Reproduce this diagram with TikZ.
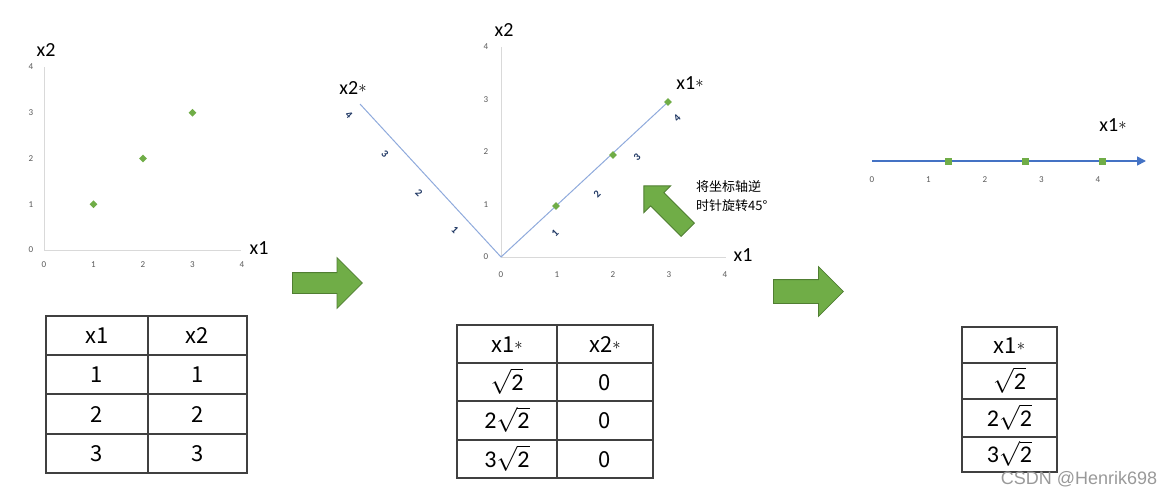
\documentclass[tikz,border=0pt]{standalone}
\usepackage{fontspec}
\usepackage{graphicx}
\setmainfont{Carlito}
\newfontfamily\cjk{Noto Sans CJK SC}
\newfontfamily\wmfont{Liberation Sans}
\usetikzlibrary{shapes.arrows,shapes.geometric,arrows.meta}
\definecolor{ptgreen}{HTML}{70AD47}
\definecolor{ptgreendark}{HTML}{507E32}
\definecolor{axgray}{HTML}{D9D9D9}
\definecolor{ticgray}{HTML}{595959}
\definecolor{rotblue}{HTML}{8FAADC}
\definecolor{linblue}{HTML}{4472C4}
\definecolor{tabline}{HTML}{404040}
\definecolor{navy}{HTML}{203864}
\newcommand\smallstar{\raisebox{0.1em}{\scalebox{0.8}{$\ast$}}}
\newcommand\rtwo[1]{{\fontsize{24}{24}\selectfont\rmfamily #1$\sqrt{\hbox{2}}$}}
\begin{document}
\begin{tikzpicture}[x=1pt,y=-1pt,
    every node/.style={inner sep=0pt},
    axis/.style={axgray, line width=1pt},
    tick/.style={font=\fontsize{9}{9}\selectfont, text=ticgray},
    rtick/.style={font=\bfseries\fontsize{10.5}{10.5}\selectfont, text=navy},
    lab/.style={font=\fontsize{20}{20}\selectfont},
    dot/.style={diamond, fill=ptgreen, minimum size=8pt},
    rdot/.style={rectangle, fill=ptgreen, minimum size=5.5pt, rotate=45},
    sqdot/.style={rectangle, fill=ptgreen, minimum size=7pt},
    bigarrow/.style={single arrow, fill=ptgreen, draw=ptgreendark, line width=0.8pt,
        minimum height=70pt, single arrow head extend=15pt, inner xsep=0pt, inner ysep=10pt,
        anchor=tail},
    grid/.style={tabline, line width=1.1pt},
    cell/.style={font=\cjk\fontsize{22}{22}\selectfont, text height=16pt, text depth=0pt}
  ]
  \useasboundingbox (0,0) rectangle (1176,496);

  % first plot: the points
  \coordinate (o1) at (44,250);
  \draw[axis] (44,67) -- (o1) -- (241,250);
  \foreach \i in {0,...,4} {
    \node[tick] (t1x\i) at ({44+49.5*\i},265) {\i};
    \node[tick] (t1y\i) at (31,{250-45.75*\i}) {\i};
  }
  \foreach \i in {1,2,3}
    \node[dot] (p1\i) at ({44+49.5*\i},{250-45.75*\i}) {};
  \node[lab] (x2a) at (46,50) {x2};
  \node[lab] (x1a) at (259,248) {x1};

  % first table
  \draw[grid] (46,316) rectangle (247,473);
  \draw[grid] (148,316) -- (148,473);
  \foreach \y in {355,394,434} \draw[grid] (46,\y) -- (247,\y);
  \node[cell] (c11) at (97,335.5) {x1};
  \node[cell] (c12) at (197.5,335.5) {x2};
  \foreach \i/\y in {1/374.5,2/414,3/453.5} {
    \node[cell] (d1\i a) at (97,\y) {\i};
    \node[cell] (d1\i b) at (197.5,\y) {\i};
  }

  \node[bigarrow] (r1) at (292,283) {};

  % second plot: rotated axes
  \coordinate (o2) at (501,257);
  \draw[axis] (501,47) -- (o2) -- (726,257);
  \foreach \i in {0,...,4} {
    \node[tick] (t2x\i) at ({501+56*\i},275) {\i};
    \node[tick] (t2y\i) at (486,{257-52.5*\i}) {\i};
  }
  \coordinate (e2a) at (668,102);
  \coordinate (e2b) at (360,104);
  \draw[rotblue, line width=1pt] (e2b) -- (o2) -- (e2a);
  \foreach \i/\p in {1/{(555,233)},2/{(597,194)},3/{(637,157)},4/{(677,118)}}
    \node[rtick, rotate=45] (s1\i) at \p {\i};
  \foreach \i/\p in {1/{(455,230)},2/{(419,193)},3/{(385,154)},4/{(349,115)}}
    \node[rtick, rotate=-45] (s2\i) at \p {\i};
  \foreach \i/\p in {1/{(556,206)},2/{(613,155)},3/{(668,102)}}
    \node[rdot] (p2\i) at \p {};
  \node[lab] (x2b) at (504,30) {x2};
  \node[lab] (x1b) at (743,255) {x1};
  \node[lab] (x2s) at (353,88) {x2\smallstar};
  \node[lab] (x1s) at (690,83) {x1\smallstar};
  \node[bigarrow, rotate=135, minimum height=62pt, inner ysep=9pt,
        single arrow head extend=9.5pt] (turn) at (688,230) {};
  \node[font=\cjk\fontsize{13}{19}\selectfont, align=left, anchor=west] (note) at (696,196)
    {将坐标轴逆\\时针旋转45°};

  % second table
  \draw[grid] (457,325) rectangle (653,478);
  \draw[grid] (557,325) -- (557,478);
  \foreach \y in {363,401,440} \draw[grid] (457,\y) -- (653,\y);
  \node[cell] (c21) at (507,344) {x1\smallstar};
  \node[cell] (c22) at (605,344) {x2\smallstar};
  \foreach \i/\v/\y in {1//382,2/2/420.5,3/3/459} {
    \node[cell] (d2\i a) at (507,\y) {\rtwo{\v}};
    \node[cell] (d2\i b) at (605,\y) {0};
  }

  \node[bigarrow, inner ysep=11.5pt, single arrow head extend=13pt] (r2) at (773,291.5) {};

  % third plot: projection on x1*
  \coordinate (s3) at (872,161);
  \coordinate (e3) at (1146,161);
  \draw[linblue, line width=1.6pt, -{Triangle[length=9pt,width=9pt]}] (s3) -- (e3);
  \foreach \i in {0,...,4}
    \node[tick] (t3x\i) at ({872+56.5*\i},180) {\i};
  \foreach \i/\x in {1/948,2/1025,3/1102}
    \node[sqdot] (p3\i) at (\x,161) {};
  \node[lab] (x1c) at (1113,125) {x1\smallstar};

  % third table
  \draw[grid] (962,327) rectangle (1057,472);
  \foreach \y in {363,399,437} \draw[grid] (962,\y) -- (1057,\y);
  \node[cell] (c31) at (1009.5,345) {x1\smallstar};
  \foreach \i/\v/\y in {1//381,2/2/418,3/3/454.5}
    \node[cell] (d3\i) at (1009.5,\y) {\rtwo{\v}};

  \node[font=\wmfont\fontsize{18}{18}\selectfont, text=black!40] (mark) at (1079,479) {CSDN @Henrik698};
\end{tikzpicture}
\end{document}
